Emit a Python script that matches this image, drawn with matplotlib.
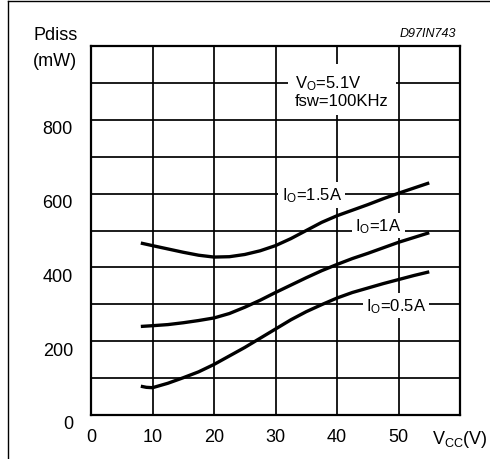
import matplotlib
matplotlib.use("Agg")
import matplotlib.pyplot as plt
import matplotlib.transforms as mtransforms
from matplotlib.lines import Line2D

plt.rcParams['font.family'] = ['Liberation Sans', 'DejaVu Sans']
plt.rcParams['mathtext.fontset'] = 'custom'
plt.rcParams['mathtext.rm'] = 'Liberation Sans'
plt.rcParams['mathtext.it'] = 'Liberation Sans:italic'

# ---- data ----
vcc_15 = [8.1, 10, 12.5, 15, 17.5, 20, 22.5, 25, 27.5, 30, 32.5, 35, 37.5, 40, 42.5, 45, 47.5, 50, 52.5, 55]
p_15 = [466, 459, 450, 441, 433, 428, 429, 435, 445, 459, 478, 500, 522, 540, 555, 570, 586, 601, 615, 629]

vcc_10 = [8.1, 10, 12.5, 15, 17.5, 20, 22.5, 25, 27.5, 30, 32.5, 35, 37.5, 40, 42.5, 45, 47.5, 50, 52.5, 55]
p_10 = [240, 242, 245, 250, 256, 263, 275, 292, 311, 332, 352, 372, 391, 408, 424, 438, 453, 468, 481, 494]

vcc_05 = [8.1, 9, 10, 12.5, 15, 17.5, 20, 22.5, 25, 27.5, 30, 32.5, 35, 37.5, 40, 42.5, 45, 47.5, 50, 52.5, 55]
p_05 = [78, 75, 74, 86, 101, 117, 137, 160, 183, 208, 233, 258, 280, 299, 317, 332, 344, 356, 367, 378, 388]

x_ticks = [0, 10, 20, 30, 40, 50, 60]
x_labels = ['0', '10', '20', '30', '40', '50', r'V$_{\mathrm{CC}}$(V)']
y_ticks = [0, 100, 200, 300, 400, 500, 600, 700, 800, 900, 1000]
y_labels = ['0', '', '200', '', '400', '', '600', '', '800', '', '']

curve_labels = [r'I$_{\mathrm{O}}$=1.5A', r'I$_{\mathrm{O}}$=1A', r'I$_{\mathrm{O}}$=0.5A']
label_pos = [(35.9, 596), (46.7, 513), (49.6, 297)]
cond_text = 'V$_{\\mathrm{O}}$=5.1V\nfsw=100KHz'
code_text = 'D97IN743'

fig = plt.figure(figsize=(4.9, 4.6), dpi=100)
ax = fig.add_axes([91/490, 44/460, 369/490, 369/460])

ax.set_xlim(0, 60)
ax.set_ylim(0, 1000)
ax.set_xticks(x_ticks)
ax.set_xticklabels(x_labels, fontsize=13)
ax.set_yticks(y_ticks)
ax.set_yticklabels(y_labels, fontsize=13)
ax.tick_params(length=0)
ax.tick_params(axis='y', pad=13)
ax.tick_params(axis='x', pad=9.5)
off = mtransforms.ScaledTranslation(0, -7/100, fig.dpi_scale_trans)
for lab in ax.get_yticklabels():
    lab.set_transform(lab.get_transform() + off)
ax.grid(True, color='black', linewidth=1.25, zorder=1)
ax.set_axisbelow(True)
for s in ax.spines.values():
    s.set_linewidth(1.6)

for vx, py in [(vcc_15, p_15), (vcc_10, p_10), (vcc_05, p_05)]:
    ax.plot(vx, py, color='black', linewidth=2.4, solid_capstyle='butt', zorder=3)

for txt, (lx, ly) in zip(curve_labels, label_pos):
    ax.text(lx, ly, txt, fontsize=12, ha='center', va='center', zorder=4,
            bbox=dict(boxstyle='square,pad=0.2', fc='white', ec='none'))

ax.text(33.2, 880, cond_text, fontsize=12, ha='left', va='center', zorder=4,
        linespacing=1.1,
        bbox=dict(boxstyle='square,pad=0.45', fc='white', ec='none'))

fig.text(456/490, 1 - 34/460, code_text, fontsize=9, style='italic', ha='right', va='center')
fig.text(33/490, 1 - 35/460, 'Pdiss', fontsize=13, ha='left', va='center')
fig.text(33/490, 1 - 61/460, '(mW)', fontsize=13, ha='left', va='center')

# outer frame (top and left edges visible)
fig.add_artist(Line2D([8/490, 8/490], [0, 1 - 1.5/460], transform=fig.transFigure, color='black', linewidth=1.0))
fig.add_artist(Line2D([8/490, 1], [1 - 1.5/460, 1 - 1.5/460], transform=fig.transFigure, color='black', linewidth=1.0))

fig.savefig('out.png', dpi=100)
